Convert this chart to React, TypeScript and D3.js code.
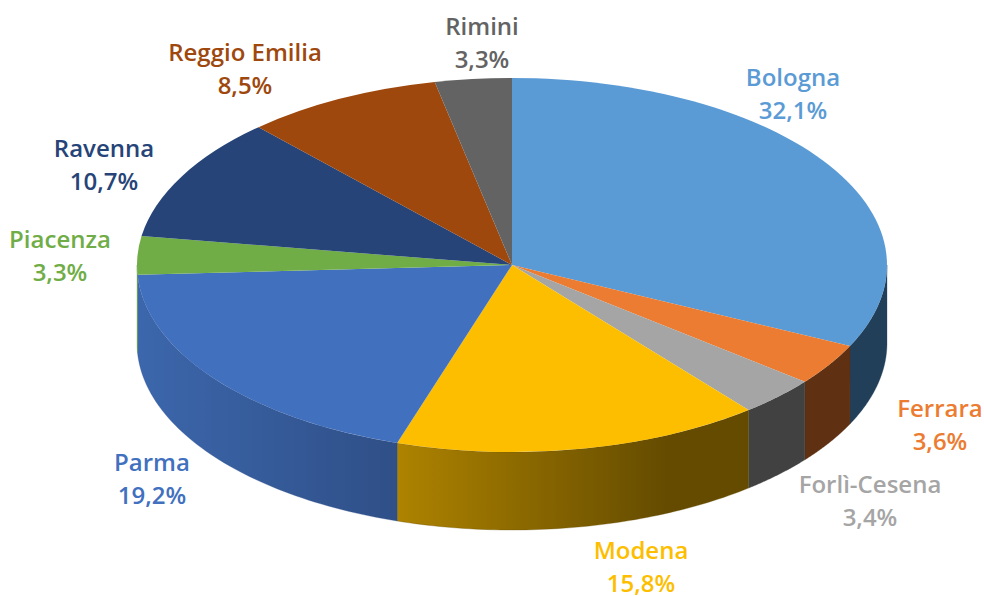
import * as d3 from 'd3';

const WIDTH = 984;
const HEIGHT = 596;
const CX = 512;
const CY = 265;
const RX = 375;
const RY = 187;
const DEPTH = 78;

// chart values
const PROVINCES = ['Bologna', 'Ferrara', 'Forlì-Cesena', 'Modena', 'Parma', 'Piacenza', 'Ravenna', 'Reggio Emilia', 'Rimini'];
const SHARES = [32.1, 3.6, 3.4, 15.8, 19.2, 3.3, 10.7, 8.5, 3.3];

// styling, same order as PROVINCES
const TOP_COLORS = ['#5B9BD5', '#EB7C31', '#A5A5A5', '#FDBE00', '#4170BF', '#70AD47', '#264478', '#9E480E', '#636363'];
const SIDE_FROM = ['#223F59', '#5F3112', '#414141', '#AE8300', '#3C67AC', '#5F9A3C', '#264478', '#9E480E', '#636363'];
const SIDE_TO = ['#223F59', '#5F3112', '#414141', '#644B00', '#2F4F87', '#5F9A3C', '#264478', '#9E480E', '#636363'];
const SIDE_SOLID_AT = [1, 1, 1, 0.77, 1, 1, 1, 1, 1];
const LABEL_X = [793, 940, 870, 641, 152, 60, 104, 245, 482];
const LABEL_Y = [76, 407, 483, 549, 461, 238, 147, 51, 25];
const LINE_GAP = 33;

const formatShare = (v: number) => `${v.toFixed(1).replace('.', ',')}%`;

const pie = d3
  .pie<number>()
  .sort(null)
  .value((d) => d);

const arc = d3.arc<d3.PieArcDatum<number>>().innerRadius(0).outerRadius(RX);

const rimX = (a: number) => CX + RX * Math.sin(a);
const rimY = (a: number) => CY - RY * Math.cos(a);

// Outer wall of one slice, only the part that faces the viewer
const sidePath = (start: number, end: number) => {
  const from = Math.max(start, Math.PI / 2);
  const to = Math.min(end, (3 * Math.PI) / 2);
  if (to <= from) return null;
  const angles = d3.range(0, 61).map((i) => from + ((to - from) * i) / 60);
  const top = angles.map((a) => [rimX(a), rimY(a)] as [number, number]);
  const bottom = [...angles].reverse().map((a) => [rimX(a), rimY(a) + DEPTH] as [number, number]);
  return { d: `${d3.line()([...top, ...bottom])}Z`, x0: rimX(from), x1: rimX(to) };
};

export default function App() {
  const slices = pie(SHARES);
  const sides = slices.map((s) => sidePath(s.startAngle, s.endAngle));

  return (
    <svg
      width={WIDTH}
      height={HEIGHT}
      viewBox={`0 0 ${WIDTH} ${HEIGHT}`}
      style={{ position: 'absolute', left: 0, top: 0, background: '#fff' }}
    >
      <defs>
        {sides.map((side, i) =>
          side ? (
            <linearGradient
              key={i}
              id={`side-${i}`}
              gradientUnits="userSpaceOnUse"
              // the wall runs right to left along the angle, so flip to keep x ascending
              x1={Math.min(side.x0, side.x1)}
              x2={Math.max(side.x0, side.x1)}
              y1={0}
              y2={0}
            >
              <stop offset="0" stopColor={SIDE_FROM[i]} />
              <stop offset={SIDE_SOLID_AT[i]} stopColor={SIDE_TO[i]} />
              <stop offset="1" stopColor={SIDE_TO[i]} />
            </linearGradient>
          ) : null
        )}
      </defs>

      <g>
        {sides.map((side, i) =>
          side ? <path key={i} d={side.d} fill={`url(#side-${i})`} stroke={SIDE_TO[i]} strokeWidth={0.3} /> : null
        )}
      </g>

      <g transform={`translate(${CX},${CY}) scale(1,${RY / RX})`}>
        {slices.map((s, i) => (
          <path key={i} d={arc(s) as string} fill={TOP_COLORS[i]} />
        ))}
      </g>

      <g fontFamily="'Open Sans', sans-serif" fontWeight={600} fontSize={24} textAnchor="middle">
        {PROVINCES.map((name, i) => (
          <g key={name} fill={TOP_COLORS[i]}>
            <text x={LABEL_X[i]} y={LABEL_Y[i]} dominantBaseline="central">
              {name}
            </text>
            <text x={LABEL_X[i]} y={LABEL_Y[i] + LINE_GAP} dominantBaseline="central">
              {formatShare(SHARES[i])}
            </text>
          </g>
        ))}
      </g>
    </svg>
  );
}
